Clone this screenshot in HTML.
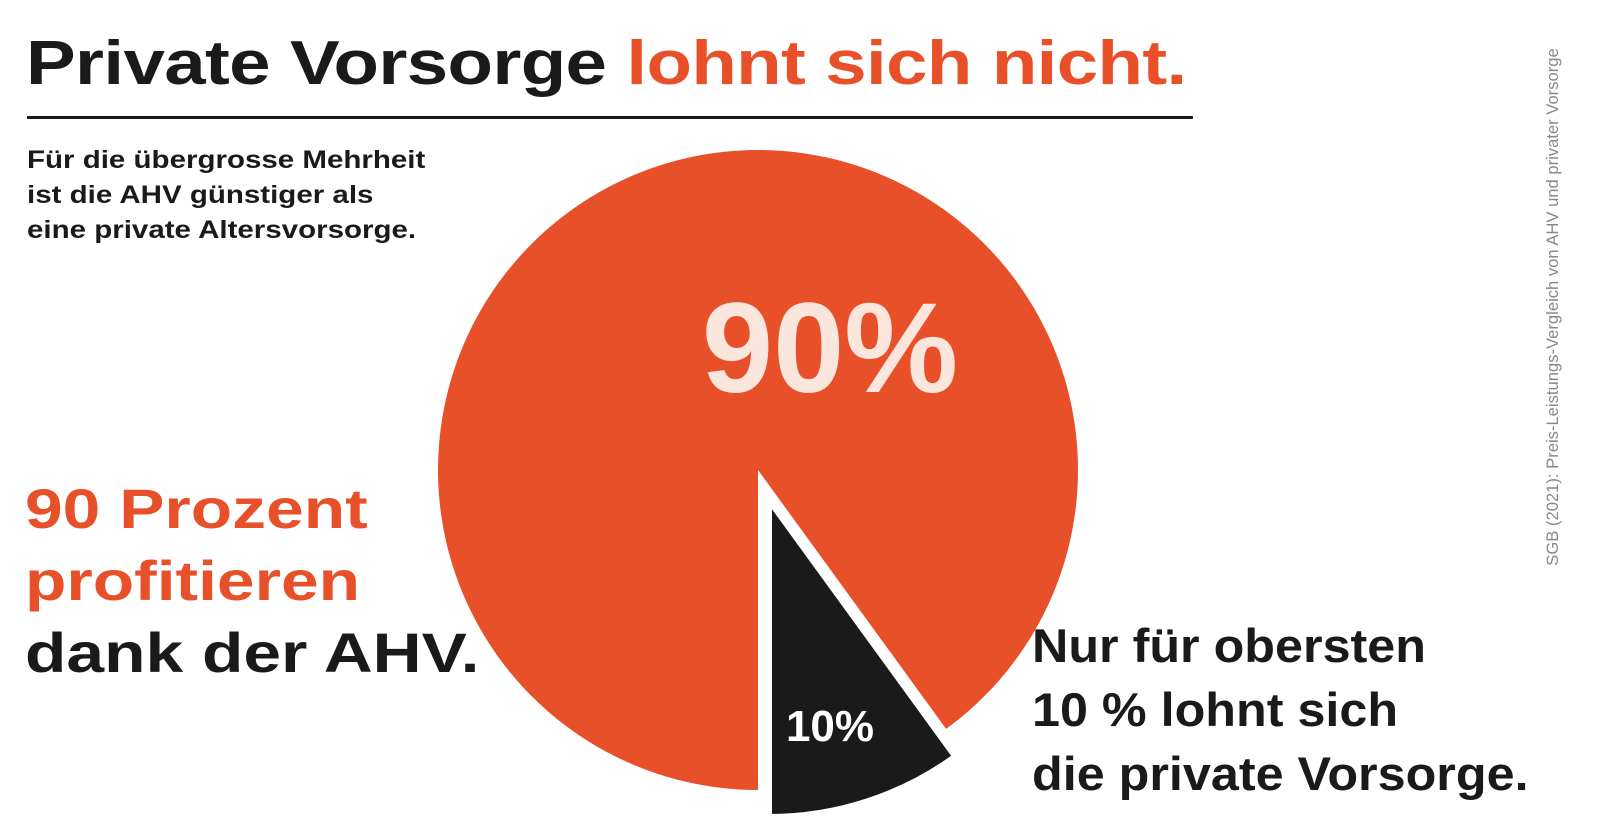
<!DOCTYPE html>
<html><head><meta charset="utf-8"><style>
body{margin:0;width:1600px;height:840px;background:#fff;overflow:hidden;position:relative;font-family:"Liberation Sans",sans-serif;}
.t{position:absolute;font-weight:bold;white-space:nowrap;transform-origin:0 0;}
</style></head><body>
<div class="t" style="left:26px;top:28px;font-size:62px;color:#1a1a1a;letter-spacing:-0.5px;transform:scaleX(1.2)">Private Vorsorge <span style="color:#e8502a">lohnt sich nicht.</span></div>
<div style="position:absolute;left:27px;top:116px;width:1166px;height:3px;background:#1a1a1a"></div>
<div class="t" style="left:27px;top:143px;font-size:25px;line-height:35px;color:#1a1a1a;transform:scaleX(1.18)">Für die übergrosse Mehrheit<br>ist die AHV günstiger als<br>eine private Altersvorsorge.</div>
<div class="t" style="left:25px;top:473px;font-size:56px;line-height:72px;color:#1a1a1a;transform:scaleX(1.21)"><span style="color:#e8502a">90 Prozent<br>profitieren</span><br>dank der AHV.</div>
<div class="t" style="left:1032px;top:614px;font-size:47px;line-height:64px;color:#1a1a1a;transform:scaleX(1.07)">Nur für obersten<br>10 % lohnt sich<br>die private Vorsorge.</div>
<div style="position:absolute;left:1553px;top:307px;transform:translate(-50%,-50%) rotate(-90deg);font-size:16.6px;color:#888;white-space:nowrap">SGB (2021): Preis-Leistungs-Vergleich von AHV und privater Vorsorge</div>
<svg id="pie" width="1600" height="840" style="position:absolute;left:0;top:0"></svg>
<script>
const categories=["AHV günstiger","Private Vorsorge lohnt"];
const values=[90,10];
const labels=["90%","10%"];
const svg=document.getElementById('pie');
const NS='http://www.w3.org/2000/svg';
function pt(cx,cy,r,frac){const a=frac*2*Math.PI;return [cx-r*Math.sin(a),cy+r*Math.cos(a)];}
const total=values.reduce((a,b)=>a+b,0);
const geo=[{cx:758,cy:470,r:320,fill:'#e8502a'},{cx:769,cy:500,r:317,fill:'#1a1a1a'}];
let start=0;
values.forEach((v,i)=>{
  const g=geo[i];const f0=start/total,f1=(start+v)/total;
  const p0=pt(g.cx,g.cy,g.r,f0),p1=pt(g.cx,g.cy,g.r,f1);
  const large=(v/total)>0.5?1:0;
  const p=document.createElementNS(NS,'path');
  p.setAttribute('d',`M${g.cx},${g.cy}L${p0[0]},${p0[1]}A${g.r},${g.r} 0 ${large} 1 ${p1[0]},${p1[1]}Z`);
  p.setAttribute('fill',g.fill);
  if(i===1){p.setAttribute('stroke','#fff');p.setAttribute('stroke-width','6');}
  
  
  svg.appendChild(p);
  const t=document.createElementNS(NS,'text');
  t.setAttribute('x',830);t.setAttribute('y',i===0?392:741);
  t.setAttribute('text-anchor','middle');
  t.setAttribute('font-family','Liberation Sans, sans-serif');t.setAttribute('font-weight','bold');
  t.setAttribute('font-size',i===0?128:44);
  t.setAttribute('fill',i===0?'#fbe6de':'#fff');
  t.textContent=labels[i];
  
  
  svg.appendChild(t);
  start+=v;
});
</script>
</body></html>
